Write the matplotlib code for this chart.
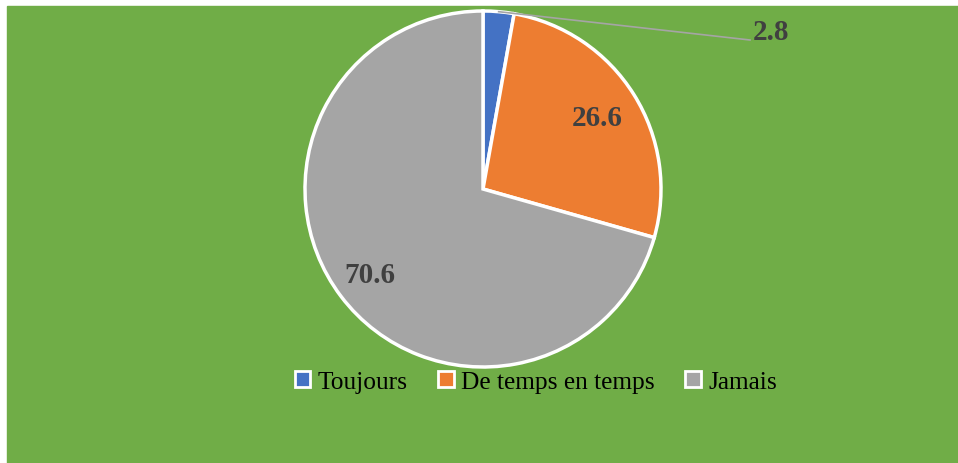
import numpy as np
import matplotlib
matplotlib.use("Agg")
import matplotlib.pyplot as plt
from matplotlib.patches import Patch, Rectangle

# data
categories = ["Toujours", "De temps en temps", "Jamais"]
values = [2.8, 26.6, 70.6]
colors = ["#4472C4", "#ED7D31", "#A5A5A5"]
label_dist = [None, 0.76, 0.80]   # None -> outside label with leader line

green = "#70AD47"
W, H = 958, 464
plt.rcParams["font.family"] = ["Liberation Serif", "DejaVu Serif"]

fig = plt.figure(figsize=(W / 100, H / 100), dpi=100, facecolor="white")
fig.add_artist(Rectangle((7 / W, -0.05), 1.0, 1 - 7 / H + 0.05,
                         transform=fig.transFigure, color=green, zorder=0))

ax = fig.add_axes([7 / W, 0, (W - 7) / W, (H - 7) / H])
cx, cy, R = 483, H - 190, 178

wedges, _ = ax.pie(values, colors=colors, startangle=90, counterclock=False,
                   center=(cx, cy), radius=R,
                   wedgeprops=dict(edgecolor="white", linewidth=2.5))
ax.set_xlim(7, W)
ax.set_ylim(0, H - 7)
ax.set_aspect("equal")
ax.axis("off")

for w, v, d in zip(wedges, values, label_dist):
    mid = np.deg2rad((w.theta1 + w.theta2) / 2)
    if d is None:
        # outside label with a leader line
        px, py = cx + R * np.cos(mid), cy + R * np.sin(mid)
        tx, ty = 771, H - 33
        ax.plot([px, tx - 21], [py, ty - 8], color="#A5A5A5", lw=1.2)
        ax.text(tx, ty, f"{v}", ha="center", va="center", fontsize=21,
                fontweight="bold", color="#404040")
    else:
        ax.text(cx + d * R * np.cos(mid), cy + d * R * np.sin(mid), f"{v}",
                ha="center", va="center", fontsize=21, fontweight="bold",
                color="#404040")

handles = [Patch(facecolor=c, edgecolor="white", linewidth=2) for c in colors]
fig.legend(handles, categories, loc="center", bbox_to_anchor=(536 / W, 1 - 383 / H),
           ncol=3, frameon=False, fontsize=18.3, handlelength=0.6, handleheight=0.6,
           handletextpad=0.3, columnspacing=1.2)

fig.savefig("out.png", dpi=100, facecolor=fig.get_facecolor())
